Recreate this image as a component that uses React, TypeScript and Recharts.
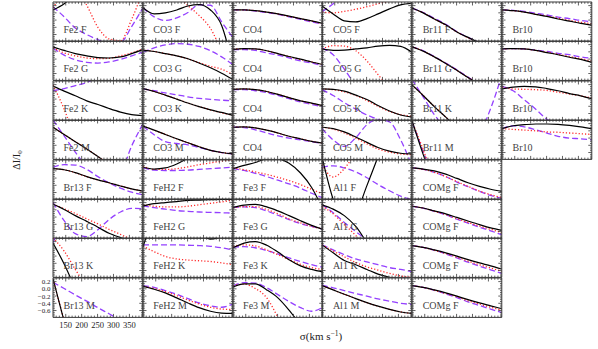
import React from 'react';
import { LineChart, Line, XAxis, YAxis } from 'recharts';

// velocity dispersion sample points (km/s)
const SIGMA = [110, 145, 180, 216, 251, 286, 322, 357, 392];
const X_DOMAIN: [number, number] = [110, 392];
const Y_DOMAIN: [number, number] = [-0.79, 0.3];
const X_TICK_LABELS = [150, 200, 250, 300, 350];
const Y_TICK_LABELS = [0.2, 0.0, -0.2, -0.4, -0.6];
const X_TICKS = [120, 130, 140, 150, 160, 170, 180, 190, 200, 210, 220, 230, 240, 250, 260, 270, 280, 290, 300, 310, 320, 330, 340, 350, 360, 370, 380, 390];
const Y_TICKS = [-0.75, -0.7, -0.65, -0.6, -0.55, -0.5, -0.45, -0.4, -0.35, -0.3, -0.25, -0.2, -0.15, -0.1, -0.05, 0, 0.05, 0.1, 0.15, 0.2, 0.25];

// ---- row 1 ----
const fe2F_k = [0.08, 0.25, 0.55, 0.9, 1.2, 1.5, 1.8, 2.1, 2.4];
const fe2F_r = [0.14, 0.55, 0.7, 0.21, -0.4, -0.72, -0.77, -0.18, 0.6];
const fe2F_p = [0.17, -0.11, -0.42, -0.6, -0.74, -0.84, -0.82, -0.38, 0.13];
const co3F_k = [0.14, -0.03, 0.0, 0.08, 0.19, 0.23, 0.08, -0.35, -1.45];
const co3F_r = [0.4, 0.6, 0.65, 0.5, 0.2, -0.07, -0.43, -1.05, -1.6];
const co3F_p = [0.14, -0.11, -0.21, -0.14, 0.01, 0.22, 0.21, -0.25, -0.68];
const co4a_k = [0.08, 0.08, 0.06, 0.02, -0.03, -0.09, -0.16, -0.22, -0.29];
const co4a_r = [0.08, 0.08, 0.06, 0.02, -0.03, -0.1, -0.16, -0.23, -0.3];
const co4a_p = [0.08, 0.08, 0.05, 0.01, -0.04, -0.11, -0.18, -0.25, -0.31];
const co5F_k = [0.19, -0.03, -0.22, -0.25, -0.16, -0.03, 0.11, 0.22, 0.27];
const co5F_r = [0.02, 0.0, 0.04, 0.1, 0.17, 0.25, 0.32, 0.4, 0.45];
const co5F_p = [0.03, 0.25, 0.5, 0.7, 0.9, 1.0, 1.1, 1.2, 1.3];
const br11F_k = [0.13, 0.0, -0.17, -0.33, -0.53, -0.68, -0.82, -0.92, -1.0];
const br11F_r = [0.13, 0.0, -0.17, -0.34, -0.53, -0.69, -0.82, -0.92, -1.0];
const br11F_p = [0.13, 0.01, -0.15, -0.32, -0.52, -0.68, -0.82, -0.92, -1.0];
const br10a_k = [0.08, 0.06, 0.02, -0.04, -0.1, -0.17, -0.23, -0.29, -0.34];
const br10a_r = [0.08, 0.06, 0.02, -0.04, -0.09, -0.15, -0.21, -0.26, -0.3];
const br10a_p = [0.08, 0.07, 0.04, -0.01, -0.06, -0.12, -0.16, -0.21, -0.25];
// ---- row 2 ----
const fe2G_k = [0.14, 0.04, -0.05, -0.11, -0.16, -0.17, -0.14, -0.05, 0.06];
const fe2G_r = [0.11, -0.03, -0.11, -0.17, -0.19, -0.18, -0.11, -0.03, 0.08];
const fe2G_p = [0.1, -0.09, -0.22, -0.29, -0.31, -0.28, -0.21, -0.11, -0.01];
const co3G_k = [0.05, 0.01, -0.05, -0.11, -0.19, -0.31, -0.44, -0.59, -0.76];
const co3G_r = [0.05, 0.01, -0.05, -0.11, -0.19, -0.3, -0.4, -0.48, -0.63];
const co3G_p = [-0.01, 0.11, 0.19, 0.23, 0.21, 0.15, 0.03, -0.14, -0.35];
const co4b_k = [0.07, 0.09, 0.08, 0.03, -0.05, -0.13, -0.2, -0.28, -0.35];
const co4b_r = [0.07, 0.09, 0.08, 0.03, -0.05, -0.13, -0.21, -0.28, -0.35];
const co4b_p = [0.06, 0.06, 0.04, -0.03, -0.09, -0.17, -0.25, -0.31, -0.38];
const co5G_k = [0.08, 0.04, 0.05, 0.08, 0.11, 0.16, 0.18, 0.15, -0.01];
const co5G_r = [0.08, 0.17, 0.16, 0.03, -0.25, -0.63, -1.0, -1.4, -1.8];
const co5G_p = [0.1, -0.08, -0.48, -0.95, -1.4, -1.8, -2.2, -2.6, -3.0];
const br11G_k = [0.14, 0.02, -0.14, -0.32, -0.51, -0.71, -0.9, -1.05, -1.2];
const br11G_r = [0.14, 0.02, -0.14, -0.32, -0.51, -0.71, -0.9, -1.05, -1.2];
const br11G_p = [0.14, 0.03, -0.13, -0.31, -0.5, -0.7, -0.9, -1.05, -1.2];
const br10b_k = [0.08, 0.09, 0.08, 0.04, -0.02, -0.08, -0.15, -0.21, -0.29];
const br10b_r = [0.08, 0.09, 0.08, 0.04, -0.01, -0.07, -0.13, -0.19, -0.26];
const br10b_p = [0.08, 0.09, 0.08, 0.05, 0.01, -0.04, -0.08, -0.14, -0.18];
// ---- row 3 ----
const fe2K_k = [0.16, 0.02, -0.11, -0.25, -0.35, -0.46, -0.56, -0.63, -0.66];
const fe2K_r = [0.19, -0.48, -1.3, -2.0, -2.7, -3.4, -4.0, -4.6, -5.2];
const fe2K_p = [0.03, 0.09, 0.17, 0.26, 0.4, 0.5, 0.6, 0.7, 0.8];
const co3K_k = [0.09, 0.01, -0.09, -0.2, -0.31, -0.41, -0.5, -0.57, -0.65];
const co3K_r = [0.09, 0.01, -0.09, -0.2, -0.31, -0.41, -0.5, -0.58, -0.65];
const co3K_p = [0.08, 0.03, -0.03, -0.08, -0.14, -0.18, -0.21, -0.23, -0.25];
const co4c_k = [0.07, 0.08, 0.06, 0.01, -0.07, -0.16, -0.25, -0.31, -0.38];
const co4c_r = [0.07, 0.08, 0.06, 0.01, -0.07, -0.16, -0.25, -0.32, -0.38];
const co4c_p = [0.06, 0.06, 0.03, -0.02, -0.1, -0.19, -0.28, -0.35, -0.41];
const co5K_k = [0.08, 0.07, 0.02, -0.09, -0.21, -0.38, -0.53, -0.64, -0.7];
const co5K_r = [0.08, 0.06, 0.0, -0.1, -0.24, -0.4, -0.54, -0.63, -0.68];
const co5K_p = [0.06, -0.1, -0.3, -0.48, -0.64, -0.76, -0.84, -0.9, -0.95];
const br11K_k = [0.19, -0.1, -0.41, -0.7, -1.0, -1.3, -1.6, -1.9, -2.2];
const br11K_r = [0.19, -0.1, -0.41, -0.7, -1.0, -1.3, -1.6, -1.9, -2.2];
const br11K_p = [0.35, -0.14, -0.63, -1.0, -1.2, -1.25, -1.12, -0.46, 0.46];
const br10c_k = [0.08, 0.13, 0.15, 0.14, 0.09, 0.03, -0.05, -0.11, -0.19];
const br10c_r = [0.13, 0.08, 0.07, 0.06, 0.04, -0.01, -0.06, -0.11, -0.17];
const br10c_p = [0.15, 0.03, -0.22, -0.48, -0.76, -0.95, -1.1, -1.25, -1.4];
// ---- row 4 ----
const fe2M_k = [0.1, -0.1, -0.3, -0.5, -0.71, -0.93, -1.15, -1.37, -1.6];
const fe2M_r = [0.1, -0.1, -0.3, -0.5, -0.71, -0.93, -1.15, -1.37, -1.6];
const fe2M_p = [0.3, -0.14, -0.59, -1.0, -1.25, -1.3, -1.15, -0.42, 0.19];
const co3M_k = [0.13, 0.02, -0.1, -0.22, -0.33, -0.44, -0.54, -0.6, -0.64];
const co3M_r = [0.13, 0.02, -0.1, -0.22, -0.33, -0.44, -0.54, -0.6, -0.64];
const co3M_p = [0.13, -0.11, -0.3, -0.35, -0.39, -0.46, -0.54, -0.6, -0.64];
const co4d_k = [0.1, 0.11, 0.08, 0.02, -0.06, -0.15, -0.22, -0.29, -0.34];
const co4d_r = [0.1, 0.11, 0.08, 0.02, -0.06, -0.15, -0.22, -0.29, -0.34];
const co4d_p = [0.1, 0.09, 0.03, -0.06, -0.14, -0.2, -0.25, -0.3, -0.35];
const co5M_k = [0.1, 0.06, -0.03, -0.17, -0.32, -0.46, -0.56, -0.62, -0.64];
const co5M_r = [0.1, 0.05, -0.06, -0.2, -0.36, -0.5, -0.59, -0.64, -0.66];
const co5M_p = [0.06, -0.25, -0.43, -0.19, 0.17, 0.32, 0.25, -0.25, -0.95];
const br11M_k = [0.28, -0.65, -1.5, -2.4, -3.2, -4.0, -4.8, -5.6, -6.4];
const br11M_r = [0.26, -0.52, -1.4, -2.2, -3.0, -3.8, -4.6, -5.4, -6.2];
const br11M_p = [0.25, -0.57, -1.4, -2.2, -3.0, -3.8, -4.6, -5.4, -6.2];
const br10d_k = [0.06, 0.14, 0.17, 0.19, 0.19, 0.18, 0.15, 0.11, 0.06];
const br10d_r = [0.06, 0.04, 0.02, 0.0, -0.03, -0.04, -0.06, -0.08, -0.1];
const br10d_p = [0.06, 0.14, 0.11, 0.03, -0.06, -0.15, -0.2, -0.22, -0.25];
// ---- row 5 ----
const br13F_k = [0.06, 0.03, -0.05, -0.16, -0.25, -0.33, -0.42, -0.5, -0.56];
const br13F_r = [0.06, 0.03, -0.05, -0.16, -0.25, -0.33, -0.42, -0.5, -0.56];
const br13F_p = [0.1, 0.17, 0.16, 0.04, -0.16, -0.33, -0.48, -0.59, -0.66];
const feh2F_k = [0.1, 0.05, 0.08, 0.19, 0.35, 0.5, 0.65, 0.8, 0.95];
const feh2F_r = [0.13, 0.04, 0.04, 0.06, 0.11, 0.17, 0.22, 0.27, 0.3];
const feh2F_p = [0.08, 0.02, 0.01, 0.01, 0.02, 0.04, 0.06, 0.08, 0.1];
const fe3F_k = [0.06, 0.15, 0.23, 0.33, 0.33, 0.21, -0.06, -0.46, -1.06];
const fe3F_r = [0.08, 0.03, -0.03, -0.1, -0.18, -0.27, -0.38, -0.51, -0.64];
const fe3F_p = [0.06, 0.01, -0.07, -0.16, -0.26, -0.36, -0.48, -0.62, -0.75];
const al1F_k = [0.38, -0.79, -1.5, -1.2, -0.41, 0.39, 1.2, 2.0, 2.8];
const al1F_r = [0.17, -0.17, 0.06, 0.5, 0.8, 1.1, 1.4, 1.7, 2.0];
const al1F_p = [0.1, 0.14, 0.08, -0.03, -0.19, -0.38, -0.55, -0.7, -0.79];
const comgE_k = [0.08, 0.05, 0.0, -0.09, -0.21, -0.33, -0.43, -0.51, -0.57];
const comgE_r = [0.08, 0.04, -0.04, -0.16, -0.3, -0.43, -0.56, -0.66, -0.74];
const comgE_p = [0.08, 0.04, -0.04, -0.16, -0.31, -0.44, -0.57, -0.68, -0.76];
// ---- row 6 ----
const br13G_k = [0.16, 0.01, -0.16, -0.32, -0.48, -0.65, -0.77, -0.92, -1.05];
const br13G_r = [0.16, 0.03, -0.1, -0.25, -0.39, -0.54, -0.68, -0.82, -0.95];
const br13G_p = [0.21, -0.3, -0.66, -0.74, -0.55, -0.27, -0.06, 0.04, 0.03];
const feh2G_k = [0.11, 0.17, 0.2, 0.23, 0.26, 0.27, 0.28, 0.29, 0.29];
const feh2G_r = [0.14, 0.1, 0.08, 0.08, 0.1, 0.14, 0.18, 0.22, 0.27];
const feh2G_p = [0.11, 0.06, 0.02, -0.02, -0.04, -0.06, -0.07, -0.08, -0.09];
const fe3G_k = [0.07, 0.13, 0.15, 0.08, -0.03, -0.16, -0.3, -0.43, -0.54];
const fe3G_r = [0.06, 0.09, 0.09, 0.01, -0.11, -0.25, -0.36, -0.46, -0.53];
const fe3G_p = [0.07, 0.08, 0.06, -0.03, -0.15, -0.27, -0.38, -0.46, -0.53];
const al1G_k = [0.14, 0.02, -0.16, -0.46, -0.9, -1.3, -1.7, -2.1, -2.5];
const al1G_r = [0.1, -0.11, -0.41, -0.71, -1.1, -1.5, -1.9, -2.3, -2.7];
const al1G_p = [0.14, -0.08, -0.35, -0.6, -0.84, -1.1, -1.4, -1.7, -2.0];
const comgG_k = [0.1, 0.05, -0.03, -0.11, -0.21, -0.31, -0.41, -0.5, -0.57];
const comgG_r = [0.1, 0.05, -0.04, -0.13, -0.24, -0.35, -0.45, -0.54, -0.63];
const comgG_p = [0.1, 0.05, -0.04, -0.14, -0.26, -0.37, -0.48, -0.58, -0.69];
// ---- row 7 ----
const br13K_k = [0.16, -0.42, -1.1, -1.8, -2.5, -3.2, -3.9, -4.6, -5.3];
const br13K_r = [0.3, -0.06, -0.57, -1.06, -1.5, -2.0, -2.5, -3.0, -3.5];
const br13K_p = [0.17, 0.9, 1.6, 2.3, 3.0, 3.7, 4.4, 5.1, 5.8];
const feh2K_k = [0.06, 0.9, 1.3, 1.2, 0.8, 0.45, 0.27, 0.35, 0.6];
const feh2K_r = [0.08, -0.08, -0.21, -0.28, -0.31, -0.33, -0.35, -0.39, -0.44];
const feh2K_p = [0.11, 0.11, 0.11, 0.11, 0.1, 0.09, 0.07, 0.03, -0.03];
const fe3K_k = [0.03, 0.16, 0.2, 0.1, -0.09, -0.3, -0.47, -0.57, -0.64];
const fe3K_r = [0.07, 0.11, 0.08, -0.03, -0.16, -0.3, -0.43, -0.52, -0.57];
const fe3K_p = [0.05, 0.06, 0.03, -0.05, -0.14, -0.25, -0.35, -0.44, -0.51];
const al1K_k = [0.11, -0.11, -0.32, -0.44, -0.57, -0.7, -0.79, -0.85, -0.9];
const al1K_r = [0.11, -0.06, -0.22, -0.38, -0.5, -0.59, -0.68, -0.75, -0.79];
const al1K_p = [0.11, -0.03, -0.16, -0.28, -0.36, -0.44, -0.52, -0.57, -0.63];
const comgK_k = [0.09, 0.04, -0.03, -0.11, -0.2, -0.3, -0.39, -0.47, -0.56];
const comgK_r = [0.09, 0.04, -0.04, -0.13, -0.23, -0.34, -0.44, -0.53, -0.62];
const comgK_p = [0.09, 0.04, -0.04, -0.14, -0.25, -0.37, -0.48, -0.58, -0.68];
// ---- row 8 ----
const br13M_k = [0.28, -0.9, -2.0, -3.1, -4.2, -5.3, -6.4, -7.5, -8.6];
const br13M_r = [0.27, -0.88, -2.0, -3.1, -4.2, -5.3, -6.4, -7.5, -8.6];
const br13M_p = [0.18, 0.01, -0.17, -0.34, -0.52, -0.69, -0.87, -1.04, -1.22];
const feh2M_k = [0.07, -0.01, -0.11, -0.25, -0.39, -0.52, -0.62, -0.67, -0.68];
const feh2M_r = [0.07, 0.01, -0.08, -0.19, -0.31, -0.42, -0.51, -0.56, -0.57];
const feh2M_p = [0.09, 0.04, -0.05, -0.15, -0.27, -0.39, -0.47, -0.51, -0.42];
const fe3M_k = [0.05, 0.14, 0.14, -0.03, -0.25, -0.59, -1.0, -1.4, -1.8];
const fe3M_r = [0.08, 0.13, 0.01, -0.25, -0.79, -1.4, -2.0, -2.6, -3.2];
const fe3M_p = [0.09, 0.17, 0.16, 0.03, -0.16, -0.35, -0.52, -0.62, -0.51];
const al1M_k = [0.09, -0.03, -0.15, -0.27, -0.38, -0.48, -0.57, -0.64, -0.68];
const al1M_r = [0.09, -0.03, -0.15, -0.27, -0.38, -0.48, -0.57, -0.64, -0.68];
const al1M_p = [0.1, 0.03, -0.05, -0.13, -0.2, -0.28, -0.34, -0.4, -0.43];
const comgM_k = [0.09, 0.04, -0.03, -0.11, -0.2, -0.3, -0.39, -0.47, -0.55];
const comgM_r = [0.09, 0.04, -0.04, -0.13, -0.22, -0.33, -0.42, -0.51, -0.59];
const comgM_p = [0.09, 0.04, -0.04, -0.14, -0.24, -0.36, -0.46, -0.56, -0.66];

type PanelDef = { row: number; col: number; label: string; k: number[]; r: number[]; p: number[] };

const PANELS: PanelDef[] = [
  { row: 0, col: 0, label: 'Fe2 F', k: fe2F_k, r: fe2F_r, p: fe2F_p },
  { row: 0, col: 1, label: 'CO3 F', k: co3F_k, r: co3F_r, p: co3F_p },
  { row: 0, col: 2, label: 'CO4', k: co4a_k, r: co4a_r, p: co4a_p },
  { row: 0, col: 3, label: 'CO5 F', k: co5F_k, r: co5F_r, p: co5F_p },
  { row: 0, col: 4, label: 'Br11 F', k: br11F_k, r: br11F_r, p: br11F_p },
  { row: 0, col: 5, label: 'Br10', k: br10a_k, r: br10a_r, p: br10a_p },
  { row: 1, col: 0, label: 'Fe2 G', k: fe2G_k, r: fe2G_r, p: fe2G_p },
  { row: 1, col: 1, label: 'CO3 G', k: co3G_k, r: co3G_r, p: co3G_p },
  { row: 1, col: 2, label: 'CO4', k: co4b_k, r: co4b_r, p: co4b_p },
  { row: 1, col: 3, label: 'CO5 G', k: co5G_k, r: co5G_r, p: co5G_p },
  { row: 1, col: 4, label: 'Br11 G', k: br11G_k, r: br11G_r, p: br11G_p },
  { row: 1, col: 5, label: 'Br10', k: br10b_k, r: br10b_r, p: br10b_p },
  { row: 2, col: 0, label: 'Fe2 K', k: fe2K_k, r: fe2K_r, p: fe2K_p },
  { row: 2, col: 1, label: 'CO3 K', k: co3K_k, r: co3K_r, p: co3K_p },
  { row: 2, col: 2, label: 'CO4', k: co4c_k, r: co4c_r, p: co4c_p },
  { row: 2, col: 3, label: 'CO5 K', k: co5K_k, r: co5K_r, p: co5K_p },
  { row: 2, col: 4, label: 'Br11 K', k: br11K_k, r: br11K_r, p: br11K_p },
  { row: 2, col: 5, label: 'Br10', k: br10c_k, r: br10c_r, p: br10c_p },
  { row: 3, col: 0, label: 'Fe2 M', k: fe2M_k, r: fe2M_r, p: fe2M_p },
  { row: 3, col: 1, label: 'CO3 M', k: co3M_k, r: co3M_r, p: co3M_p },
  { row: 3, col: 2, label: 'CO4', k: co4d_k, r: co4d_r, p: co4d_p },
  { row: 3, col: 3, label: 'CO5 M', k: co5M_k, r: co5M_r, p: co5M_p },
  { row: 3, col: 4, label: 'Br11 M', k: br11M_k, r: br11M_r, p: br11M_p },
  { row: 3, col: 5, label: 'Br10', k: br10d_k, r: br10d_r, p: br10d_p },
  { row: 4, col: 0, label: 'Br13 F', k: br13F_k, r: br13F_r, p: br13F_p },
  { row: 4, col: 1, label: 'FeH2 F', k: feh2F_k, r: feh2F_r, p: feh2F_p },
  { row: 4, col: 2, label: 'Fe3 F', k: fe3F_k, r: fe3F_r, p: fe3F_p },
  { row: 4, col: 3, label: 'Al1 F', k: al1F_k, r: al1F_r, p: al1F_p },
  { row: 4, col: 4, label: 'COMg F', k: comgE_k, r: comgE_r, p: comgE_p },
  { row: 5, col: 0, label: 'Br13 G', k: br13G_k, r: br13G_r, p: br13G_p },
  { row: 5, col: 1, label: 'FeH2 G', k: feh2G_k, r: feh2G_r, p: feh2G_p },
  { row: 5, col: 2, label: 'Fe3 G', k: fe3G_k, r: fe3G_r, p: fe3G_p },
  { row: 5, col: 3, label: 'Al1 G', k: al1G_k, r: al1G_r, p: al1G_p },
  { row: 5, col: 4, label: 'COMg F', k: comgG_k, r: comgG_r, p: comgG_p },
  { row: 6, col: 0, label: 'Br13 K', k: br13K_k, r: br13K_r, p: br13K_p },
  { row: 6, col: 1, label: 'FeH2 K', k: feh2K_k, r: feh2K_r, p: feh2K_p },
  { row: 6, col: 2, label: 'Fe3 K', k: fe3K_k, r: fe3K_r, p: fe3K_p },
  { row: 6, col: 3, label: 'Al1 K', k: al1K_k, r: al1K_r, p: al1K_p },
  { row: 6, col: 4, label: 'COMg F', k: comgK_k, r: comgK_r, p: comgK_p },
  { row: 7, col: 0, label: 'Br13 M', k: br13M_k, r: br13M_r, p: br13M_p },
  { row: 7, col: 1, label: 'FeH2 M', k: feh2M_k, r: feh2M_r, p: feh2M_p },
  { row: 7, col: 2, label: 'Fe3 M', k: fe3M_k, r: fe3M_r, p: fe3M_p },
  { row: 7, col: 3, label: 'Al1 M', k: al1M_k, r: al1M_r, p: al1M_p },
  { row: 7, col: 4, label: 'COMg F', k: comgM_k, r: comgM_r, p: comgM_p },
];

const FRAME = '#3a3a3a';
const BLACK = '#000000';
const RED = '#ff2a2a';
const PURPLE = '#9440ff';
const SERIF = '"Liberation Serif", "DejaVu Serif", serif';

const X0 = 53;
const Y0 = 2;
const PW = 89.8;
const PH = 39.4;

const fmtY = (v: number) => (Math.abs(v) < 1e-9 ? '0.0' : v.toFixed(1).replace('-', '\u2212'));

function renderTick(tp: any, side: 'b' | 't' | 'l' | 'r', labeled: boolean) {
  const { x, y, payload } = tp;
  const v: number = payload.value;
  const horiz = side === 'b' || side === 't';
  const major = horiz ? v % 50 === 0 : Math.abs(Math.round(v * 100)) % 20 === 0;
  const len = major ? 3.5 : 1.8;
  let x2 = x;
  let y2 = y;
  if (side === 'b') y2 = y - len;
  else if (side === 't') y2 = y + len;
  else if (side === 'l') x2 = x + len;
  else x2 = x - len;
  const showLabel =
    labeled &&
    (horiz ? X_TICK_LABELS.includes(v) : Y_TICK_LABELS.some((l) => Math.abs(l - v) < 1e-6));
  return (
    <g>
      <line x1={x} y1={y} x2={x2} y2={y2} stroke={FRAME} strokeWidth={0.8} />
      {showLabel &&
        (horiz ? (
          <text x={x} y={y + 11} textAnchor="middle" fontSize={8.5} fontFamily={SERIF} fill="#222">
            {v}
          </text>
        ) : (
          <text x={x - 2.5} y={y + 2.5} textAnchor="end" fontSize={7} fontFamily={SERIF} fill="#222">
            {fmtY(v)}
          </text>
        ))}
    </g>
  );
}

function Panel({ def }: { def: PanelDef }) {
  const labeled = def.row === 7 && def.col === 0;
  const leftW = labeled ? 53 : 1;
  const bottomH = labeled ? 23 : 1;
  const data = SIGMA.map((s, i) => ({ s, k: def.k[i], r: def.r[i], p: def.p[i] }));
  const left = X0 + def.col * PW;
  const top = Y0 + def.row * PH;
  return (
    <div style={{ position: 'absolute', left: left - leftW, top: top - 1 }}>
      <LineChart
        width={PW + 1 + leftW}
        height={PH + 1 + bottomH}
        data={data}
        margin={{ top: 0, right: 0, bottom: 0, left: 0 }}
      >
        <XAxis
          xAxisId="b"
          orientation="bottom"
          dataKey="s"
          type="number"
          domain={X_DOMAIN}
          allowDataOverflow
          ticks={X_TICKS}
          interval={0}
          height={bottomH}
          tickSize={0}
          tickMargin={0}
          tickLine={false}
          axisLine={{ stroke: FRAME, strokeWidth: 1 }}
          tick={(tp: any) => renderTick(tp, 'b', labeled)}
        />
        <XAxis
          xAxisId="t"
          orientation="top"
          dataKey="s"
          type="number"
          domain={X_DOMAIN}
          allowDataOverflow
          ticks={X_TICKS}
          interval={0}
          height={1}
          tickSize={0}
          tickMargin={0}
          tickLine={false}
          axisLine={{ stroke: FRAME, strokeWidth: 1 }}
          tick={(tp: any) => renderTick(tp, 't', false)}
        />
        <YAxis
          yAxisId="l"
          orientation="left"
          type="number"
          domain={Y_DOMAIN}
          allowDataOverflow
          ticks={Y_TICKS}
          interval={0}
          width={leftW}
          tickSize={0}
          tickMargin={0}
          tickLine={false}
          axisLine={{ stroke: FRAME, strokeWidth: 1 }}
          tick={(tp: any) => renderTick(tp, 'l', labeled)}
        />
        <YAxis
          yAxisId="r"
          orientation="right"
          type="number"
          domain={Y_DOMAIN}
          allowDataOverflow
          ticks={Y_TICKS}
          interval={0}
          width={1}
          tickSize={0}
          tickMargin={0}
          tickLine={false}
          axisLine={{ stroke: FRAME, strokeWidth: 1 }}
          tick={(tp: any) => renderTick(tp, 'r', false)}
        />
        <Line xAxisId="b" yAxisId="l" type="monotone" dataKey="p" stroke={PURPLE} strokeWidth={1.3}
          strokeDasharray="6 3" dot={false} activeDot={false} isAnimationActive={false} />
        <Line xAxisId="b" yAxisId="l" type="monotone" dataKey="r" stroke={RED} strokeWidth={1.3}
          strokeDasharray="1.2 2" dot={false} activeDot={false} isAnimationActive={false} />
        <Line xAxisId="b" yAxisId="l" type="monotone" dataKey="k" stroke={BLACK} strokeWidth={1.2}
          dot={false} activeDot={false} isAnimationActive={false} />
      </LineChart>
    </div>
  );
}

export default function App() {
  return (
    <div style={{ position: 'absolute', left: 0, top: 0, width: 598, height: 349, background: '#fff' }}>
      {PANELS.map((d) => (
        <Panel key={`${d.row}-${d.col}`} def={d} />
      ))}
      <svg width={598} height={349} style={{ position: 'absolute', left: 0, top: 0, pointerEvents: 'none' }}>
        {PANELS.map((d) => (
          <text
            key={`l-${d.row}-${d.col}`}
            x={X0 + d.col * PW + 10.5}
            y={Y0 + d.row * PH + 31}
            fontSize={10}
            fontFamily={SERIF}
            fill="#444"
          >
            {d.label}
          </text>
        ))}
        <text transform="translate(20,160) rotate(-90)" textAnchor="middle" fontSize={10} fontFamily={SERIF} fill="#222">
          ΔI/I<tspan fontSize={7} dy={2}>0</tspan>
        </text>
        <text x={321} y={340} textAnchor="middle" fontSize={11} fontFamily={SERIF} fill="#222">
          σ(km s<tspan fontSize={7.5} dy={-4}>−1</tspan>
          <tspan dy={4}>)</tspan>
        </text>
      </svg>
    </div>
  );
}
